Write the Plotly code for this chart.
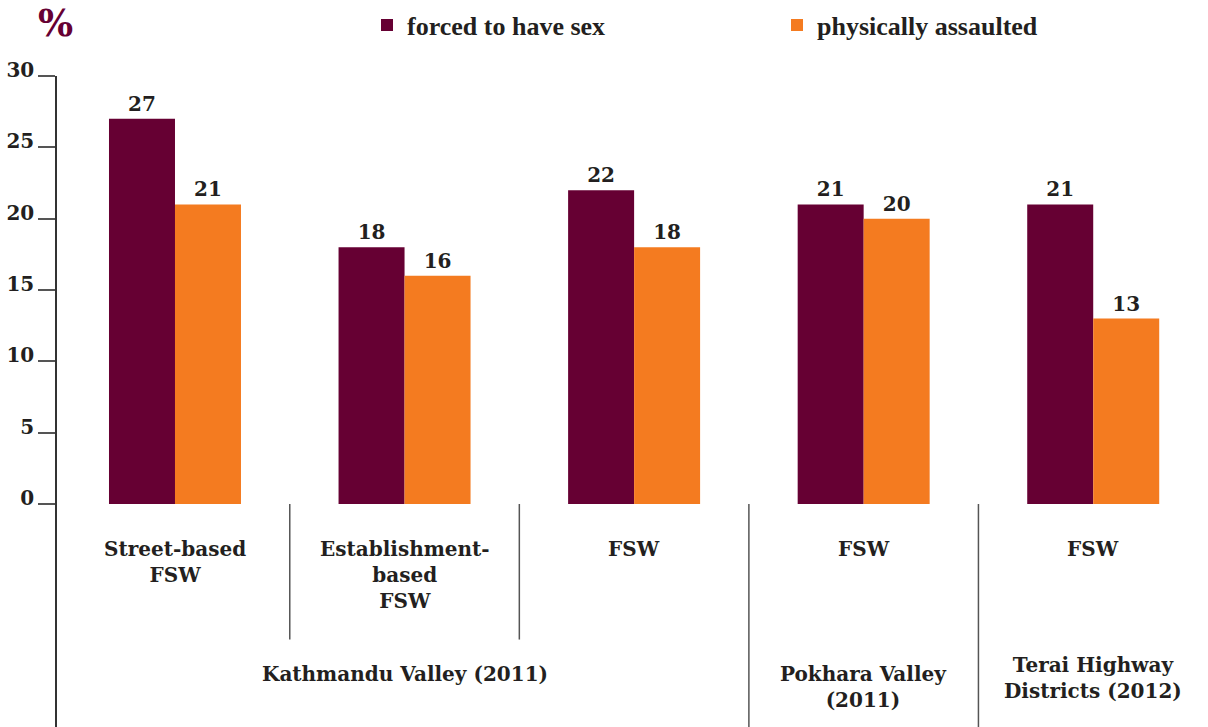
import plotly.graph_objects as go

# ---- data ----
categories = ["Street-based<br>FSW", "Establishment-<br>based<br>FSW", "FSW", "FSW", "FSW"]
positions = [0, 1, 2, 3, 4]
forced_sex = [27, 18, 22, 21, 21]
phys_assault = [21, 16, 18, 20, 13]
series_names = ["forced to have sex", "physically assaulted"]
regions = ["Kathmandu Valley (2011)", "Pokhara Valley<br>(2011)", "Terai Highway<br>Districts (2012)"]
region_pos = [1, 3, 4]
y_ticks = [0, 5, 10, 15, 20, 25, 30]

MAROON = "#660033"
ORANGE = "#F47B20"
TXT = "#231F20"
SERIF = "DejaVu Serif"

fig = go.Figure()
for name, vals, col, lg in [(series_names[0], forced_sex, MAROON, "legend"),
                            (series_names[1], phys_assault, ORANGE, "legend2")]:
    fig.add_trace(go.Bar(
        x=positions, y=vals, name=name, marker=dict(color=col, line=dict(width=0)),
        text=[str(v) for v in vals], textposition="outside", cliponaxis=False,
        textfont=dict(family=SERIF, size=20, color=TXT, weight="bold"),
        hoverinfo="skip", legend=lg,
    ))

Y_MIN = -15.63

shapes = []
for xs, ybot in [(0.5, -9.5), (1.5, -9.5), (2.5, Y_MIN), (3.5, Y_MIN)]:
    shapes.append(dict(type="line", xref="x", yref="y", x0=xs, x1=xs, y0=0, y1=ybot,
                       line=dict(color="#555555", width=1.5)))

annotations = []
for p, c in zip(positions, categories):
    annotations.append(dict(x=p, y=-2.2, xref="x", yref="y", text=c, showarrow=False,
                            yanchor="top", xanchor="center",
                            font=dict(family=SERIF, size=20, color=TXT, weight="bold")))
for p, r, yy in zip(region_pos, regions, [-10.96, -10.9, -10.3]):
    annotations.append(dict(x=p, y=yy, xref="x", yref="y", text=r, showarrow=False,
                            yanchor="top", xanchor="center",
                            font=dict(family=SERIF, size=20, color=TXT, weight="bold")))
annotations.append(dict(x=-0.0013, y=1.0814, xref="paper", yref="paper", text="%",
                        showarrow=False, xanchor="center", yanchor="middle",
                        font=dict(family=SERIF, size=37, color=MAROON, weight="bold")))

legend_font = dict(family="Liberation Serif", size=26, color=TXT, weight="bold")
fig.update_layout(
    width=1208, height=727,
    margin=dict(l=57, r=0, t=76, b=0, autoexpand=False),
    paper_bgcolor="white", plot_bgcolor="white",
    barmode="group", bargap=0.425, bargroupgap=0,
    showlegend=True,
    legend=dict(orientation="h", x=(367 - 57) / 1151, y=(727 - 25) / 651,
                xanchor="left", yanchor="middle", font=legend_font,
                bgcolor="rgba(0,0,0,0)", borderwidth=0),
    legend2=dict(orientation="h", x=(777 - 57) / 1151, y=(727 - 25) / 651,
                 xanchor="left", yanchor="middle", font=legend_font,
                 bgcolor="rgba(0,0,0,0)", borderwidth=0),
    xaxis=dict(range=[-0.514, 4.5], showticklabels=False, showline=False, showgrid=False,
               zeroline=False, ticks=""),
    yaxis=dict(range=[Y_MIN, 30], tickvals=y_ticks, showgrid=False, zeroline=False,
               showline=True, linecolor="#333333", linewidth=1.5,
               ticks="outside", ticklen=17, tickwidth=1.5, tickcolor="#555555",
               ticklabelshift=-6, automargin=False,
               tickfont=dict(family=SERIF, size=20, color=TXT, weight="bold")),
    shapes=shapes, annotations=annotations,
)

fig.write_html("out.html", config={"displayModeBar": False},
               post_script="document.body.style.margin='0';document.body.style.padding='0';")
